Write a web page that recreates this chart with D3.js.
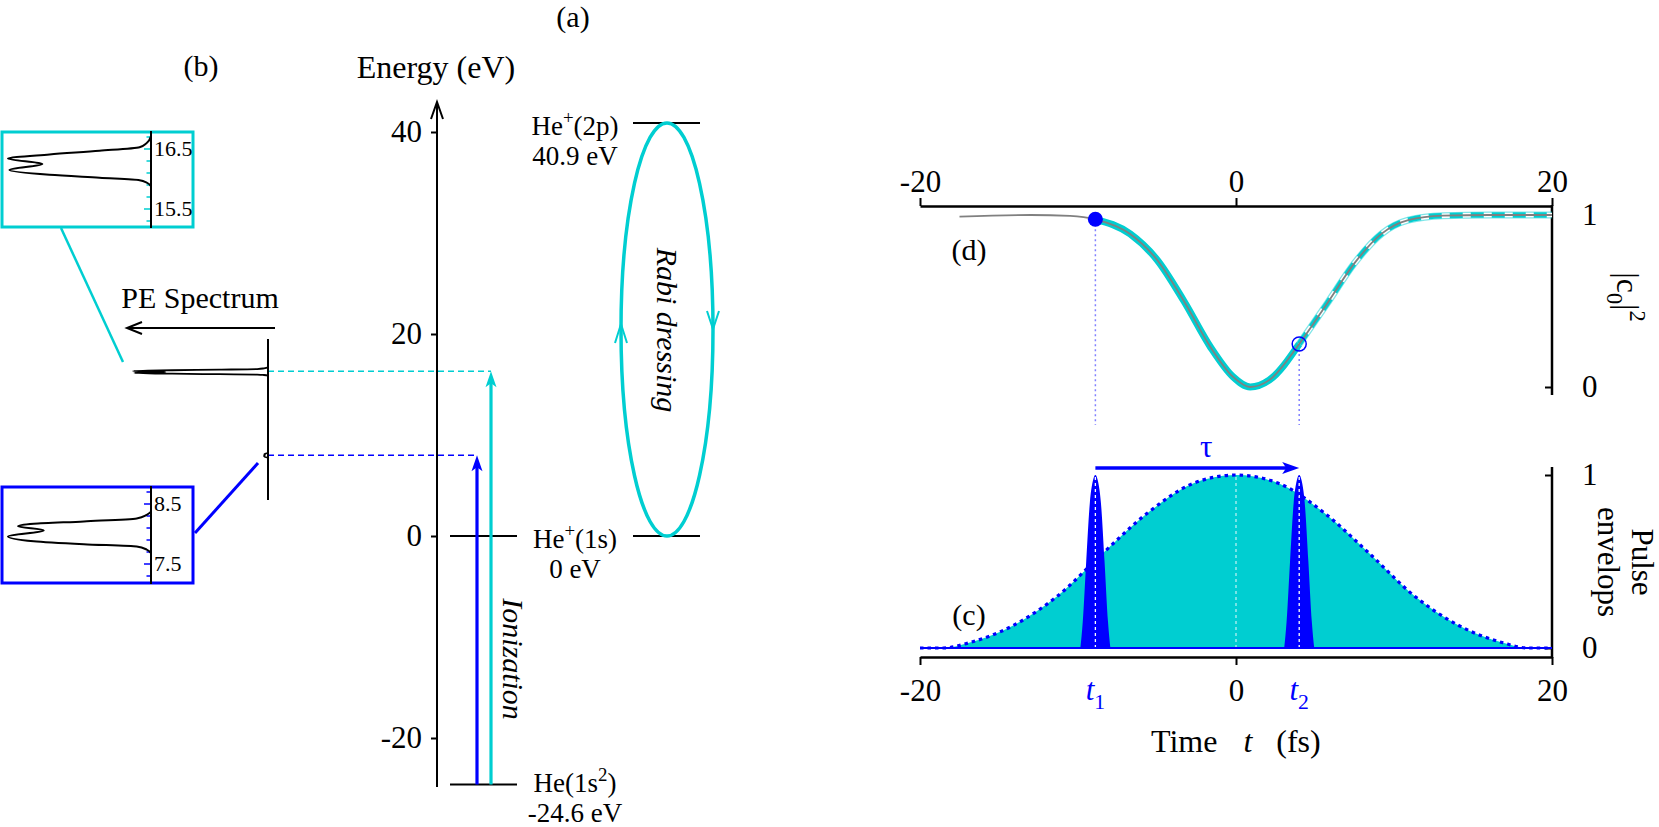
<!DOCTYPE html>
<html>
<head>
<meta charset="utf-8">
<script src="https://cdn.jsdelivr.net/npm/d3@7"></script>
<style>
    body { margin: 0; background: #fff; }
    svg text { font-family: "Liberation Serif", "DejaVu Serif", serif; fill: #000; }
</style>
</head>
<body>
<svg id="fig" width="1659" height="827"></svg>
<script>
    // ---- data ----
    var energyTicks = [-20, 0, 20, 40]
    var levelE = [-24.6, 0, 40.9]
    var levelLabels = [
        ['He(1s', {t: '2', sup: true}, ')'],
        ['He', {t: '+', sup: true}, '(1s)'],
        ['He', {t: '+', sup: true}, '(2p)']
    ]
    var photonE = [8.0, 16.3]          // blue, cyan photoelectron lines

    // PE spectrum insets (energy in eV, intensity 0..1)
    var specHiE = [16.71, 16.60, 16.53, 16.47, 16.41, 16.34, 16.25, 16.15, 16.07, 16.02, 15.98, 15.94, 15.88]
    var specHiI = [0, 0.03, 0.08, 0.36, 0.71, 1.0, 0.76, 0.99, 0.71, 0.36, 0.08, 0.03, 0]
    var specLoE = [8.37, 8.32, 8.26, 8.21, 8.17, 8.13, 8.06, 7.96, 7.88, 7.83, 7.79, 7.74, 7.68]
    var specLoI = [0, 0.03, 0.10, 0.47, 0.82, 0.93, 0.75, 1.0, 0.82, 0.47, 0.10, 0.03, 0]
    var hiTicks = [15.3, 15.5, 15.7, 15.9, 16.1, 16.3, 16.5, 16.7]
    var hiLabels = [15.5, 16.5]
    var loTicks = [7.3, 7.5, 7.7, 7.9, 8.1, 8.3, 8.5, 8.7]
    var loLabels = [7.5, 8.5]

    // time panels
    var timeTicks = [-20, 0, 20]
    var unitTicks = [0, 1]
    var pulseTimes = [-8.9, 4.0]       // t1, t2
    var popT = [-17.5, -13, -10.5, -8.9, -6.7, -5, -3.3, -1.6, -0.2, 0.9, 2.1, 4.0, 5.8, 7.5, 9.2, 10.9, 13.1, 16, 20]
    var popV = [0.99, 1.0, 0.995, 0.975, 0.89, 0.74, 0.5, 0.23, 0.06, 0.0, 0.04, 0.25, 0.49, 0.72, 0.89, 0.97, 0.996, 1.0, 1.0]
    var envT = [-20, -18.5, -16.9, -14.1, -11.3, -8.4, -5.6, -2.75, 0, 2.75, 5.6, 8.4, 11.3, 14.1, 16.9, 18.5, 20]
    var envV = [0, 0, 0.03, 0.13, 0.30, 0.55, 0.78, 0.95, 1, 0.95, 0.78, 0.55, 0.30, 0.13, 0.03, 0, 0]
    var pulseDt = [-0.95, -0.8, -0.58, -0.35, -0.15, 0, 0.15, 0.35, 0.58, 0.8, 0.95]
    var pulseV = [0, 0.15, 0.5, 0.84, 0.97, 1, 0.97, 0.84, 0.5, 0.15, 0]

    var CY = '#00CED1', BL = '#0000FF'
    var svg = d3.select('#fig')
    svg.append('rect').attr('width', 1659).attr('height', 827).attr('fill', '#fff')

    // text with sub/superscripts
    function addText(g, x, y, parts, size, anchor) {
        var t = g.append('text').attr('x', x).attr('y', y)
            .attr('text-anchor', anchor || 'middle').style('font-size', size + 'px')
        var shift = 0
        parts.forEach(function(p) {
            if (typeof p === 'string') p = {t: p}
            var target = p.sup ? -0.42 * size : p.sub ? 0.3 * size : 0
            var s = t.append('tspan').text(p.t).attr('dy', target - shift)
            shift = target
            if (p.sup || p.sub) s.style('font-size', (0.7 * size) + 'px')
            if (p.it) s.style('font-style', 'italic')
            if (p.dx) s.attr('dx', p.dx)
            if (p.fill) s.style('fill', p.fill)
        })
        return t
    }

    function cleanAxis(g, size) {
        g.attr('font-family', null).attr('font-size', null)
        g.selectAll('line').attr('stroke', '#000').attr('stroke-width', 2)
        g.selectAll('text').style('font-size', size + 'px')
    }

    // ================= (a) energy diagram =================
    var eY = d3.scaleLinear().domain([0, 40]).range([536, 132])

    var ga = svg.append('g').attr('transform', 'translate(437,0)')
        .call(d3.axisLeft(eY).tickValues(energyTicks).tickSize(6).tickPadding(9).tickFormat(String))
    ga.select('.domain').remove()
    cleanAxis(ga, 31)
    svg.append('line').attr('x1', 437).attr('x2', 437).attr('y1', 787).attr('y2', 103)
        .attr('stroke', '#000').attr('stroke-width', 2)
    svg.append('path').attr('d', 'M431,119 L437,102 L443,119')
        .attr('fill', 'none').attr('stroke', '#000').attr('stroke-width', 2)
    addText(svg, 436, 78, ['Energy (eV)'], 32)
    addText(svg, 573, 27, ['(a)'], 30)

    // levels
    levelE.forEach(function(e, i) {
        var y = eY(e)
        if (i < 2) svg.append('line').attr('x1', 450).attr('x2', 517).attr('y1', y).attr('y2', y)
            .attr('stroke', '#000').attr('stroke-width', 2)
        if (i > 0) svg.append('line').attr('x1', 633).attr('x2', 700).attr('y1', y).attr('y2', y)
            .attr('stroke', '#000').attr('stroke-width', 2)
        var y2 = Math.min(y + 42, 822)
        addText(svg, 575, Math.min(y + 13, y2 - 30), levelLabels[i], 27)
        addText(svg, 575, y2, [e + ' eV'], 27)
    })

    // ionization arrows
    var arrowX = [477, 491], arrowC = [BL, CY]
    photonE.forEach(function(e, i) {
        var x = arrowX[i], yt = eY(e), yb = eY(levelE[0])
        svg.append('line').attr('x1', x).attr('x2', x).attr('y1', yb).attr('y2', yt + 10)
            .attr('stroke', arrowC[i]).attr('stroke-width', 3.2)
        svg.append('path').attr('d', 'M' + x + ',' + yt + ' L' + (x + 5.5) + ',' + (yt + 16) +
            ' L' + x + ',' + (yt + 12) + ' L' + (x - 5.5) + ',' + (yt + 16) + 'Z').attr('fill', arrowC[i])
        svg.append('line').attr('x1', 268).attr('x2', x).attr('y1', yt).attr('y2', yt)
            .attr('stroke', arrowC[i]).attr('stroke-width', 1.5).attr('stroke-dasharray', '6,4')
    })
    addText(svg.append('g').attr('transform', 'translate(513,659) rotate(90)'), 0, 10,
        [{t: 'Ionization', it: true}], 30)

    // Rabi dressing ellipse
    var ry = (eY(0) - eY(levelE[2])) / 2, cyE = (eY(0) + eY(levelE[2])) / 2
    svg.append('ellipse').attr('cx', 667).attr('cy', cyE).attr('rx', 46).attr('ry', ry)
        .attr('fill', 'none').attr('stroke', CY).attr('stroke-width', 3.5)
    svg.append('path').attr('d', 'M615,343 L621,324 L627,343')
        .attr('fill', 'none').attr('stroke', CY).attr('stroke-width', 2)
    svg.append('path').attr('d', 'M707,311 L713,329 L719,311')
        .attr('fill', 'none').attr('stroke', CY).attr('stroke-width', 2)
    addText(svg.append('g').attr('transform', 'translate(667,330) rotate(90)'), 0, 10,
        [{t: 'Rabi dressing', it: true}], 30)

    // ================= (b) PE spectrum =================
    var mX = d3.scaleLinear().domain([0, 1]).range([268, 133])
    svg.append('line').attr('x1', 268).attr('x2', 268).attr('y1', 339).attr('y2', 500)
        .attr('stroke', '#000').attr('stroke-width', 2)
    var mainHi = d3.line().x(function(i) { return mX(specHiI[i]) }).y(function(i) { return eY(specHiE[i]) })
        .curve(d3.curveMonotoneY)
    svg.append('path').attr('d', mainHi(d3.range(specHiE.length)))
        .attr('fill', 'none').attr('stroke', '#000').attr('stroke-width', 1.8)
    var mainLo = d3.line().x(function(i) { return mX(specLoI[i] * 0.03) })
        .y(function(i) { return eY(specLoE[i] - 0.04) }).curve(d3.curveMonotoneY)
    svg.append('path').attr('d', mainLo(d3.range(specLoE.length)))
        .attr('fill', 'none').attr('stroke', '#000').attr('stroke-width', 1.6)

    svg.append('line').attr('x1', 275).attr('x2', 128).attr('y1', 328).attr('y2', 328)
        .attr('stroke', '#000').attr('stroke-width', 2)
    svg.append('path').attr('d', 'M142,322 L127,328 L142,334')
        .attr('fill', 'none').attr('stroke', '#000').attr('stroke-width', 2)
    addText(svg, 200, 308, ['PE Spectrum'], 30)
    addText(svg, 201, 76, ['(b)'], 30)

    // connectors
    svg.append('line').attr('x1', 61).attr('y1', 228).attr('x2', 123).attr('y2', 362)
        .attr('stroke', CY).attr('stroke-width', 2.5)
    svg.append('line').attr('x1', 195).attr('y1', 533).attr('x2', 258).attr('y2', 463)
        .attr('stroke', BL).attr('stroke-width', 3)

    function inset(y0, h, color, sy, ticks, labels, E, I) {
        var iX = d3.scaleLinear().domain([0, 1]).range([151, 8])
        svg.append('rect').attr('x', 2).attr('y', y0).attr('width', 191).attr('height', h)
            .attr('fill', '#fff').attr('stroke', color).attr('stroke-width', 3)
        ticks.forEach(function(v) {
            var major = labels.indexOf(v) >= 0
            svg.append('line').attr('x1', 151 - (major ? 7 : 4.5)).attr('x2', 151)
                .attr('y1', sy(v)).attr('y2', sy(v)).attr('stroke', color).attr('stroke-width', 1.5)
        })
        labels.forEach(function(v) {
            svg.append('text').attr('x', 154).attr('y', sy(v)).attr('dy', '0.34em')
                .style('font-size', '22px').text(String(v))
        })
        svg.append('line').attr('x1', 151).attr('x2', 151).attr('y1', y0 - 1).attr('y2', y0 + h + 1)
            .attr('stroke', '#000').attr('stroke-width', 2)
        var ln = d3.line().x(function(i) { return iX(I[i]) }).y(function(i) { return sy(E[i]) })
            .curve(d3.curveMonotoneY)
        svg.append('path').attr('d', ln(d3.range(E.length)))
            .attr('fill', 'none').attr('stroke', '#000').attr('stroke-width', 2)
    }
    inset(132, 95, CY, d3.scaleLinear().domain([15.5, 16.5]).range([209, 149]), hiTicks, hiLabels, specHiE, specHiI)
    inset(487, 96, BL, d3.scaleLinear().domain([7.5, 8.5]).range([564, 504]), loTicks, loLabels, specLoE, specLoI)

    // ================= (d) and (c) time panels =================
    var tX = d3.scaleLinear().domain([-20, 20]).range([920, 1552])
    var pY = d3.scaleLinear().domain([0, 1]).range([387, 215])
    var vY = d3.scaleLinear().domain([0, 1]).range([648, 475])

    var gTop = svg.append('g').attr('transform', 'translate(0,206)')
        .call(d3.axisTop(tX).tickValues(timeTicks).tickSize(8).tickSizeOuter(0).tickPadding(6).tickFormat(String))
    cleanAxis(gTop, 31)
    gTop.select('.domain').attr('stroke', '#000').attr('stroke-width', 2.5)

    var gBot = svg.append('g').attr('transform', 'translate(0,657)')
        .call(d3.axisBottom(tX).tickValues(timeTicks).tickSize(8).tickSizeOuter(0).tickPadding(14).tickFormat(String))
    cleanAxis(gBot, 31)
    gBot.select('.domain').attr('stroke', '#000').attr('stroke-width', 2.5)

    var gR1 = svg.append('g').attr('transform', 'translate(1552,0)')
        .call(d3.axisRight(pY).tickValues(unitTicks).tickSizeInner(-7).tickSizeOuter(0).tickPadding(30).tickFormat(String))
    gR1.select('.domain').remove()
    cleanAxis(gR1, 31)
    var gR2 = svg.append('g').attr('transform', 'translate(1552,0)')
        .call(d3.axisRight(vY).tickValues(unitTicks).tickSizeInner(-7).tickSizeOuter(0).tickPadding(30).tickFormat(String))
    gR2.select('.domain').remove()
    cleanAxis(gR2, 31)
    svg.append('line').attr('x1', 1552).attr('x2', 1552).attr('y1', 205).attr('y2', 395)
        .attr('stroke', '#000').attr('stroke-width', 2.5)
    svg.append('line').attr('x1', 1552).attr('x2', 1552).attr('y1', 467).attr('y2', 658)
        .attr('stroke', '#000').attr('stroke-width', 2.5)

    addText(svg.append('g').attr('transform', 'translate(1627,297) rotate(90)'), 0, 10,
        ['|c', {t: '0', sub: true}, '|', {t: '2', sup: true}], 32)
    var gPe = svg.append('g').attr('transform', 'translate(1625,562) rotate(90)')
    addText(gPe, 0, -7, ['Pulse'], 31)
    addText(gPe, 0, 27, ['envelops'], 31)

    // (d) population curve
    var idx = d3.range(popT.length)
    var popLine = d3.line().x(function(i) { return tX(popT[i]) }).y(function(i) { return pY(popV[i]) })
        .curve(d3.curveMonotoneX)
    var t1 = pulseTimes[0], t2 = pulseTimes[1]
    var mid = idx.filter(function(i) { return popT[i] >= t1 && popT[i] <= t2 })
    var late = idx.filter(function(i) { return popT[i] >= t2 })

    // dotted guides from markers down
    pulseTimes.forEach(function(t) {
        var i = popT.indexOf(t)
        svg.append('line').attr('x1', tX(t)).attr('x2', tX(t)).attr('y1', pY(popV[i])).attr('y2', 425)
            .attr('stroke', '#8080ff').attr('stroke-width', 1.5).attr('stroke-dasharray', '2,3')
    })
    svg.append('path').attr('d', popLine(mid)).attr('fill', 'none').attr('stroke', CY).attr('stroke-width', 7)
    svg.append('path').attr('d', popLine(late)).attr('fill', 'none').attr('stroke', CY)
        .attr('stroke-opacity', 0.5).attr('stroke-width', 7)
    svg.append('path').attr('d', popLine(late)).attr('fill', 'none').attr('stroke', '#fff').attr('stroke-width', 4.5)
    svg.append('path').attr('d', popLine(late)).attr('fill', 'none').attr('stroke', CY)
        .attr('stroke-width', 5.5).attr('stroke-dasharray', '13,8')
    svg.append('path').attr('d', popLine(idx)).attr('fill', 'none').attr('stroke', '#808080').attr('stroke-width', 1.8)
    svg.append('circle').attr('cx', tX(t1)).attr('cy', pY(popV[popT.indexOf(t1)])).attr('r', 7.5).attr('fill', BL)
    svg.append('circle').attr('cx', tX(t2)).attr('cy', pY(popV[popT.indexOf(t2)])).attr('r', 7)
        .attr('fill', 'none').attr('stroke', BL).attr('stroke-width', 1.5)
    addText(svg, 969, 260, ['(d)'], 30)

    // (c) pulse envelopes
    var envIdx = d3.range(envT.length)
    var envArea = d3.area().x(function(i) { return tX(envT[i]) }).y0(vY(0)).y1(function(i) { return vY(envV[i]) })
        .curve(d3.curveMonotoneX)
    var envLine = d3.line().x(function(i) { return tX(envT[i]) }).y(function(i) { return vY(envV[i]) })
        .curve(d3.curveMonotoneX)
    svg.append('path').attr('d', envArea(envIdx)).attr('fill', CY)
    pulseTimes.forEach(function(t) {
        var pa = d3.area().x(function(i) { return tX(t + pulseDt[i]) }).y0(vY(0))
            .y1(function(i) { return vY(pulseV[i]) }).curve(d3.curveMonotoneX)
        svg.append('path').attr('d', pa(d3.range(pulseDt.length))).attr('fill', BL)
        svg.append('line').attr('x1', tX(t)).attr('x2', tX(t)).attr('y1', vY(0)).attr('y2', vY(1))
            .attr('stroke', '#fff').attr('stroke-width', 1.3).attr('stroke-dasharray', '3,3')
    })
    svg.append('line').attr('x1', tX(0)).attr('x2', tX(0)).attr('y1', vY(0)).attr('y2', vY(1))
        .attr('stroke', '#fff').attr('stroke-opacity', 0.7).attr('stroke-width', 1.3).attr('stroke-dasharray', '3,3')
    svg.append('path').attr('d', envLine(envIdx)).attr('fill', 'none').attr('stroke', BL)
        .attr('stroke-width', 3.2).attr('stroke-dasharray', '3.5,4')
    svg.append('line').attr('x1', tX(-20)).attr('x2', tX(20)).attr('y1', vY(0)).attr('y2', vY(0))
        .attr('stroke', BL).attr('stroke-width', 2)

    // tau arrow
    var ay = 468, ax2 = tX(t2)
    svg.append('line').attr('x1', tX(t1)).attr('x2', ax2 - 10).attr('y1', ay).attr('y2', ay)
        .attr('stroke', BL).attr('stroke-width', 3.5)
    svg.append('path').attr('d', 'M' + ax2 + ',' + ay + ' L' + (ax2 - 17) + ',' + (ay - 6) +
        ' L' + (ax2 - 13) + ',' + ay + ' L' + (ax2 - 17) + ',' + (ay + 6) + 'Z').attr('fill', BL)
    addText(svg, (tX(t1) + tX(t2)) / 2 + 9, 457, [{t: 'τ', fill: BL}], 31)
    addText(svg, 969, 625, ['(c)'], 30)

    // t1, t2 labels and time title
    pulseTimes.forEach(function(t, i) {
        addText(svg, tX(t), 700, [{t: 't', it: true, fill: BL}, {t: String(i + 1), sub: true, fill: BL}], 31)
    })
    addText(svg, 1151, 752, ['Time', {t: 't', it: true, dx: 26}, {t: '(fs)', dx: 24}], 32, 'start')
</script>
</body>
</html>
